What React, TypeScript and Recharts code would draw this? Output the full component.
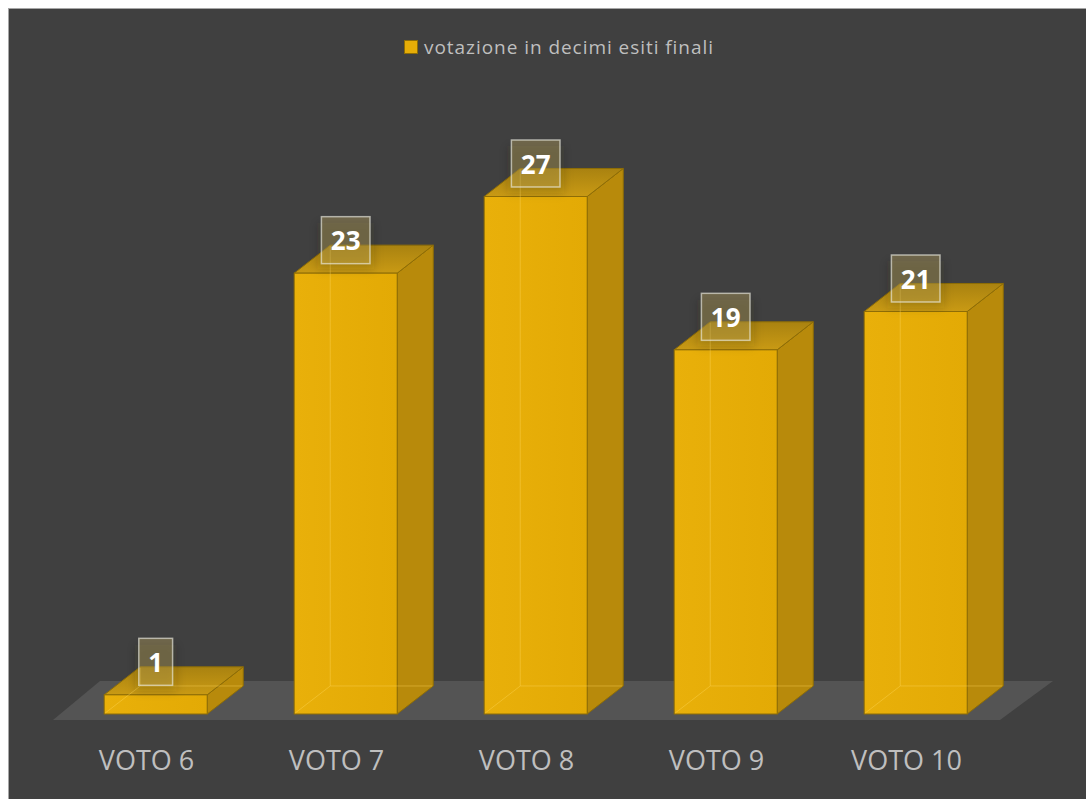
import React from 'react';
import { BarChart, Bar, XAxis, YAxis, Legend, LabelList, ReferenceArea } from 'recharts';

const categories = ['VOTO 6', 'VOTO 7', 'VOTO 8', 'VOTO 9', 'VOTO 10'];
const values = [1, 23, 27, 19, 21];
const seriesName = 'votazione in decimi esiti finali';
const yDomain: [number, number] = [0, 30];

const data = categories.map((c, i) => ({ name: c, value: values[i] }));

const FONT = '"Open Sans", "Liberation Sans", sans-serif';
const BG = '#404040';
const FLOOR = '#545454';
const FRONT = '#E6AD07';
const SIDE = '#B88A0B';
const EDGE = '#8E6D06';
const TEXT = '#BFBFBF';

function Bar3D(props: any) {
  const { x, y, width, height } = props;
  if (width == null || height == null) return null;
  const dx = width * 0.35;
  const dy = width * 0.272;
  const r = x + width;
  const b = y + height;
  return (
    <g>
      <polygon
        points={`${r},${y} ${r + dx},${y - dy} ${r + dx},${b - dy} ${r},${b}`}
        fill={SIDE}
        stroke={EDGE}
        strokeWidth={1}
      />
      <polygon
        points={`${x},${y} ${x + dx},${y - dy} ${r + dx},${y - dy} ${r},${y}`}
        fill="url(#topGrad)"
        stroke={EDGE}
        strokeWidth={1}
      />
      <rect x={x} y={y} width={width} height={height} fill="url(#frontGrad)" stroke={EDGE} strokeWidth={1} />
      <g stroke="rgba(255,214,90,0.4)" strokeWidth={1} fill="none">
        <line x1={x + dx} y1={y - dy + 1} x2={x + dx} y2={b - dy} />
        <line x1={x + 1} y1={b - 1} x2={x + dx} y2={b - dy} />
        <line x1={x + dx} y1={b - dy} x2={r + dx - 1} y2={b - dy} />
      </g>
    </g>
  );
}

function Floor(props: any) {
  const { x, y, width, height } = props;
  const bottom = y + height;
  const fl = x - 7.5;
  const fr = x + width - 10.5;
  const fy = bottom + 6;
  const by = bottom - 33;
  return (
    <polygon
      points={`${fl},${fy} ${fr},${fy} ${fr + 53},${by} ${fl + 47},${by}`}
      fill={FLOOR}
    />
  );
}

function ValueLabel(props: any) {
  const { x, y, width, value } = props;
  const cx = x + width / 2;
  const cy = y - 33;
  const s = String(value);
  const w = s.length * 14.8 + 19;
  const h = 47;
  return (
    <g>
      <rect
        x={cx - w / 2 - 4}
        y={cy - h / 2 + 6}
        width={w + 8}
        height={h}
        fill="rgba(40,30,0,0.18)"
        filter="url(#lblShadow)"
      />
      <rect
        x={cx - w / 2}
        y={cy - h / 2}
        width={w}
        height={h}
        fill="rgba(205,178,100,0.34)"
        stroke="rgba(235,235,225,0.65)"
        strokeWidth={1.5}
      />
      <text
        x={cx}
        y={cy}
        textAnchor="middle"
        dominantBaseline="central"
        fill="#FFFFFF"
        fontFamily={FONT}
        fontWeight={700}
        fontSize={26}
      >
        {s}
      </text>
    </g>
  );
}

function CatTick(props: any) {
  const { x, y, payload } = props;
  return (
    <text
      x={x - 9}
      y={y}
      dy={48}
      textAnchor="middle"
      fill={TEXT}
      fontFamily={FONT}
      fontSize={27}
    >
      {payload.value}
    </text>
  );
}

function LegendContent() {
  return (
    <div
      style={{
        display: 'flex',
        alignItems: 'center',
        justifyContent: 'center',
        fontFamily: FONT,
        fontSize: 19,
        color: TEXT,
        letterSpacing: 0.95,
      }}
    >
      <span
        style={{
          display: 'inline-block',
          width: 12,
          height: 12,
          background: FRONT,
          border: `1px solid ${EDGE}`,
          marginRight: 6,
        }}
      />
      <span>{seriesName}</span>
    </div>
  );
}

export default function App() {
  return (
    <div
      style={{
        position: 'fixed',
        left: 8,
        top: 8,
        width: 1078,
        height: 791,
        background: BG,
        boxSizing: 'border-box',
        borderTop: '1px solid #a6a6a6',
        borderLeft: '1px solid #a6a6a6',
        overflow: 'hidden',
      }}
    >
      <div style={{ position: 'absolute', left: -1, top: -1 }}>
        <BarChart
          width={1078}
          height={791}
          data={data}
          margin={{ top: 131, right: 75.5, bottom: 55, left: 52.5 }}
          barCategoryGap="23%"
        >
          <defs>
            <linearGradient id="frontGrad" x1="0" y1="0" x2="1" y2="0">
              <stop offset="0%" stopColor="#E9B00A" />
              <stop offset="100%" stopColor="#E3AA05" />
            </linearGradient>
            <linearGradient id="topGrad" x1="0" y1="0" x2="0" y2="1">
              <stop offset="0%" stopColor="#A98210" />
              <stop offset="100%" stopColor="#C99A14" />
            </linearGradient>
            <filter id="lblShadow" x="-50%" y="-50%" width="200%" height="200%">
              <feGaussianBlur stdDeviation="5" />
            </filter>
          </defs>
          <ReferenceArea y1={yDomain[0]} y2={yDomain[1]} ifOverflow="visible" shape={<Floor />} />
          <XAxis
            dataKey="name"
            axisLine={false}
            tickLine={false}
            height={30}
            interval={0}
            tick={<CatTick />}
          />
          <YAxis hide domain={yDomain} />
          <Legend
            verticalAlign="middle"
            align="center"
            wrapperStyle={{ top: 26, left: 12, width: 1078 }}
            content={<LegendContent />}
          />
          <Bar dataKey="value" name={seriesName} shape={<Bar3D />} isAnimationActive={false}>
            <LabelList dataKey="value" content={<ValueLabel />} />
          </Bar>
        </BarChart>
      </div>
    </div>
  );
}
